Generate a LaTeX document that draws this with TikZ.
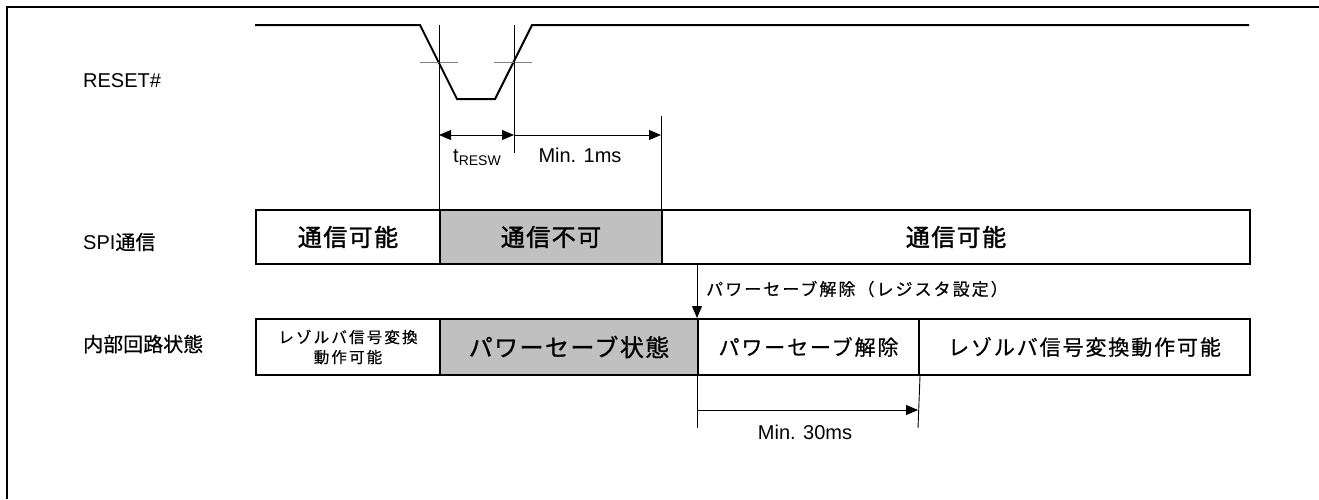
\documentclass[tikz,border=0pt]{standalone}
\usepackage{fontspec}
\setmainfont{Liberation Sans}
\newfontfamily\jp{Noto Sans CJK JP}
\usetikzlibrary{arrows.meta}
\definecolor{boxgray}{RGB}{192,192,192}
\definecolor{tickgray}{RGB}{128,128,128}
\begin{document}
\begin{tikzpicture}[x=1pt,y=-1pt,
  box/.style={draw, line width=2pt, rectangle, inner sep=0pt, anchor=north west, align=center},
  grbox/.style={box, fill=boxgray},
  bigjp/.style={font=\jp\fontsize{24pt}{28pt}\selectfont\addfontfeature{LetterSpace=6,FakeBold=1.5}},
  midjp/.style={font=\jp\fontsize{21pt}{25pt}\selectfont\addfontfeature{LetterSpace=9,FakeBold=0.6}},
  smalljp/.style={font=\jp\fontsize{15.5pt}{20pt}\selectfont\addfontfeature{LetterSpace=14,FakeBold=0.5}},
  lbl/.style={font=\fontsize{20pt}{24pt}\selectfont, inner sep=0pt},
  thinln/.style={line width=0.9pt},
  tick/.style={line width=0.9pt, draw=tickgray},
  wave/.style={line width=2pt, line join=miter},
  arr/.style={thinln, -{Triangle[length=12pt,width=10pt]}},
  darr/.style={thinln, {Triangle[length=12pt,width=10pt]}-{Triangle[length=12pt,width=10pt]}}
]
\useasboundingbox (0,0) rectangle (1319,499);
% frame
\draw[line width=2pt] (7,499) -- (7,7) -- (1319,7);

% row labels
\node[lbl, anchor=west] (lreset) at (83,81) {RESET\#};
\node[lbl, anchor=west] (lspi) at (83,242) {SPI{\jp\addfontfeature{FakeBold=0.4} 通信}};
\node[lbl, anchor=west] (lint) at (83,344) {\jp\addfontfeature{FakeBold=0.4}内部回路状態};

% RESET waveform
\draw[wave] (255,25) -- (420,25) -- (457,99) -- (495,99) -- (532,25) -- (1249,25);
\draw[tick] (420,62) -- (458,62);
\draw[tick] (494,62) -- (532,62);

% SPI row
\node[box, bigjp, minimum width=184pt, minimum height=54pt] (s1) at (255,209) {通信可能};
\node[grbox, bigjp, minimum width=222pt, minimum height=54pt] (s2) at (439,209) {通信不可};
\node[box, bigjp, minimum width=588pt, minimum height=54pt] (s3) at (661,209) {通信可能};

% internal state row
\node[box, smalljp, minimum width=184pt, minimum height=56pt] (p1) at (255,318) {レゾルバ信号変換\\動作可能};
\node[grbox, bigjp, minimum width=258pt, minimum height=56pt] (p2) at (439,318) {\addfontfeature{FakeBold=0.8}パワーセーブ状態};
\node[box, midjp, minimum width=221pt, minimum height=56pt] (p3) at (697,318) {パワーセーブ解除};
\node[box, midjp, minimum width=331pt, minimum height=56pt] (p4) at (918,318) {レゾルバ信号変換動作可能};

% timing markers
\coordinate (v1) at (439,25);
\coordinate (v2t) at (514,25);
\coordinate (v2b) at (514,153);
\coordinate (v3t) at (661,116);
\draw[thinln] (v1) -- (s2.north west);
\draw[thinln] (v2t) -- (v2b);
\draw[thinln] (v3t) -- (s3.north west);

\coordinate (a1) at (439,135);
\coordinate (a2) at (514,135);
\coordinate (a3) at (661,135);
\draw[darr] (a1) -- (a2);
\draw[arr] (a2) -- (a3);
\node[lbl, anchor=base west] (tresw) at (453,162) {t\textsubscript{\fontsize{14pt}{16pt}\selectfont RESW}};
\node[lbl, anchor=base] (min1) at (580,162) {Min. 1ms};

% power save release arrow
\coordinate (d1) at (697,263);
\draw[arr] (d1) -- (p3.north west);
\node[font=\jp\fontsize{17pt}{20pt}\selectfont\addfontfeature{LetterSpace=12,FakeBold=0.5}, anchor=west, inner sep=0pt] (rel) at (706,289) {パワーセーブ解除（レジスタ設定）};

% Min 30ms
\coordinate (e1) at (697,428);
\coordinate (e2) at (918,428);
\draw[thinln] (p3.south west) -- (e1);
\draw[thinln] (p3.south east) -- (e2);
\coordinate (b1) at (697,410);
\coordinate (b2) at (918,410);
\draw[arr] (b1) -- (b2);
\node[lbl, anchor=center] (min30) at (805,432) {Min. 30ms};
\end{tikzpicture}
\end{document}
